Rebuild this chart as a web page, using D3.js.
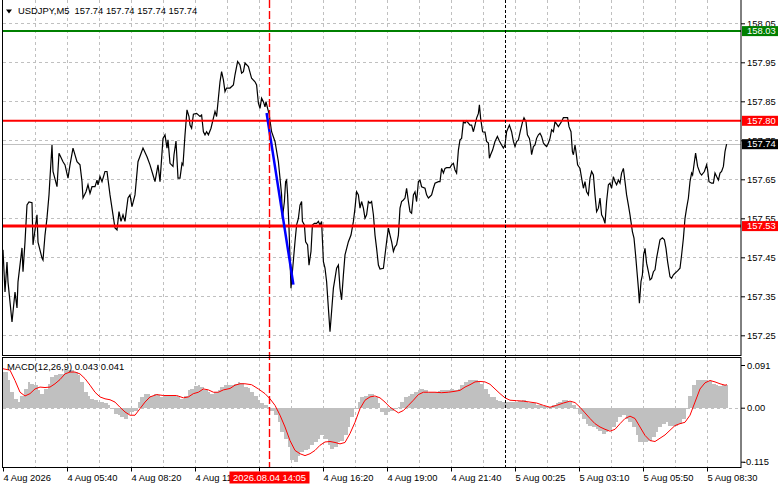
<!DOCTYPE html>
<html>
<head>
<meta charset="utf-8">
<script src="https://cdn.jsdelivr.net/npm/d3@7"></script>
<style>
  body { margin: 0; background: #fff; }
  svg { display: block; }
  text { font-family: "Liberation Sans", Arial, sans-serif; font-size: 9.4px; fill: #000; }
</style>
</head>
<body>
<script>
var NS = {};
NS.w = 781;
NS.h = 489;

// readings; bar = number of M5 bars from the first visible bar
var symbolTitle = "USDJPY,M5";
var quote = [157.74, 157.74, 157.74, 157.74];
var macdTitle = "MACD(12,26,9)";
var macdNow = [0.043, 0.041];

var closeSeries = [
  [0,157.469],[1,157.361],[2,157.438],[2.5,157.387],[4.5,157.284],[6,157.361],[7,157.320],[7.5,157.387],
  [9.5,157.474],[10,157.413],[11,157.489],[12,157.584],[13,157.592],[14.5,157.590],[15,157.482],[17,157.559],
  [17.5,157.489],[19.5,157.448],[20,157.443],[21,157.507],[22,157.551],[23,157.610],[23.5,157.654],[24.5,157.738],
  [25,157.670],[27,157.631],[28,157.717],[30,157.695],[31,157.687],[32.5,157.653],[33.5,157.687],[35,157.730],
  [37,157.695],[38.5,157.687],[39.5,157.644],[40,157.602],[41.5,157.618],[42.5,157.636],[43.5,157.614],[44.5,157.631],
  [46,157.631],[47,157.648],[47.5,157.636],[48.5,157.657],[49.5,157.644],[51,157.670],[52,157.670],[53.5,157.610],
  [55,157.559],[56,157.525],[57,157.520],[58,157.567],[59,157.542],[60,157.559],[61,157.542],[62.5,157.602],
  [63.5,157.610],[64.5,157.580],[66,157.610],[67.5,157.695],[70,157.730],[72,157.708],[73.5,157.687],[75,157.661],
  [76,157.644],[77.5,157.687],[78.5,157.644],[80,157.755],[81,157.764],[82,157.730],[82.5,157.751],[83.5,157.691],
  [85,157.683],[85.5,157.713],[86.5,157.748],[87.5,157.653],[88.5,157.653],[89.5,157.691],[90,157.687],[91,157.764],
  [92,157.828],[93,157.811],[93.5,157.789],[94.3,157.781],[95.2,157.817],[96.8,157.819],[98.5,157.811],[99.3,157.815],
  [100.2,157.772],[101,157.764],[101.8,157.772],[102.7,157.764],[104,157.781],[105.2,157.807],[106,157.824],[106.8,157.811],
  [107.7,157.858],[108.5,157.900],[109.3,157.926],[110.2,157.905],[111,157.875],[111.8,157.884],[113.5,157.884],[115.2,157.892],
  [116,157.918],[117.3,157.952],[118.5,157.943],[119.3,157.922],[120.2,157.926],[121,157.948],[122.7,157.939],[124.3,157.909],
  [126,157.900],[126.8,157.892],[127.7,157.845],[128.5,157.832],[129.3,157.858],[130.2,157.849],[131,157.836],[131.5,157.849],
  [132.3,157.832],[133,157.819],[134.3,157.772],[136,157.747],[137.7,157.695],[138.5,157.653],[139.3,157.610],[139.7,157.550],
  [140.7,157.593],[141.3,157.644],[141.8,157.648],[142.3,157.610],[143,157.525],[144,157.371],[144.7,157.413],[146,157.490],
  [146.8,157.533],[147.7,157.550],[148.5,157.584],[149.3,157.593],[149.7,157.542],[150.7,157.533],[151.3,157.490],[152.3,157.482],
  [153,157.430],[154,157.465],[154.7,157.533],[155.7,157.537],[156.8,157.537],[157.7,157.542],[158.5,157.533],[159.3,157.542],
  [160.2,157.439],[161,157.422],[161.8,157.388],[162.7,157.319],[163.5,157.259],[164.3,157.311],[165.2,157.371],[166,157.396],
  [166.8,157.422],[167.7,157.430],[168.5,157.371],[169.3,157.341],[170.2,157.405],[171,157.456],[172.7,157.490],[174,157.507],
  [175.2,157.542],[176,157.576],[176.8,157.618],[177.7,157.610],[178.5,157.576],[179.3,157.593],[180.2,157.576],[181,157.550],
  [181.8,157.559],[182.7,157.593],[183.5,157.589],[184.3,157.593],[185.2,157.559],[186,157.507],[186.8,157.473],[187.7,157.430],
  [188.5,157.420],[190.2,157.422],[191,157.456],[191.8,157.490],[192.7,157.525],[193.5,157.507],[194.3,157.490],[195.2,157.465],
  [196,157.477],[196.8,157.482],[197.7,157.507],[198.5,157.576],[199.3,157.593],[200.2,157.597],[201,157.602],[201.8,157.627],
  [202.7,157.593],[203.5,157.567],[204.3,157.563],[205.2,157.610],[206,157.618],[206.8,157.593],[207.7,157.644],[208.5,157.648],
  [209.3,157.631],[211,157.627],[211.8,157.610],[212.7,157.602],[213.5,157.606],[214.3,157.610],[215.2,157.627],[216,157.640],
  [217.7,157.644],[218.5,157.644],[219.3,157.678],[220.2,157.666],[221,157.678],[221.8,157.680],[223.5,157.680],[224.3,157.687],
  [225.2,157.691],[226,157.674],[226.8,157.666],[227.7,157.725],[228.5,157.751],[229.3,157.755],[230.2,157.798],[231,157.794],
  [231.8,157.800],[232.7,157.794],[233.5,157.789],[234.3,157.789],[235.2,157.772],[236,157.789],[236.8,157.807],[237.7,157.819],
  [238.2,157.841],[238.8,157.807],[239.8,157.772],[241,157.771],[241.8,157.747],[242.7,157.743],[243.2,157.704],[243.8,157.713],
  [244.8,157.725],[246,157.747],[247.2,157.760],[248.2,157.748],[249.3,157.738],[250.2,157.730],[251,157.738],[251.8,157.772],
  [253.2,157.789],[254.3,157.772],[255.2,157.747],[256,157.734],[256.8,157.747],[257.7,157.751],[258.8,157.777],[259.8,157.798],
  [260.5,157.808],[261.5,157.798],[262.2,157.764],[263.2,157.755],[263.8,157.738],[264.3,157.713],[265.2,157.734],[266,157.738],
  [266.8,157.755],[267.7,157.764],[268.5,157.768],[269.3,157.760],[270.2,157.743],[271,157.738],[271.8,157.734],[272.7,157.743],
  [273.5,157.755],[274.3,157.777],[275.2,157.772],[276,157.798],[277.7,157.785],[279.3,157.798],[280.2,157.808],[282.3,157.808],
  [283,157.785],[284,157.772],[284.7,157.721],[285.2,157.713],[286,157.738],[286.5,157.721],[287.3,157.687],[288.5,157.678],
  [289.3,157.653],[290.2,157.627],[291,157.644],[291.8,157.618],[292.7,157.610],[293.5,157.653],[294.3,157.670],[295.2,157.661],
  [296,157.610],[296.8,157.567],[297.7,157.576],[298.5,157.602],[299.3,157.559],[300.2,157.550],[301,157.537],[301.8,157.593],
  [302.7,157.636],[303.5,157.640],[304.3,157.627],[305.2,157.657],[306,157.644],[306.8,157.636],[307.7,157.648],[308.5,157.640],
  [309.3,157.666],[310.2,157.678],[311,157.644],[311.8,157.610],[312.7,157.584],[313.5,157.559],[314.7,157.516],[315.5,157.499],
  [316.3,157.456],[317,157.413],[317.7,157.371],[318.2,157.332],[319,157.388],[319.7,157.405],[320.3,157.456],[321,157.473],
  [321.8,157.435],[322.7,157.413],[323.5,157.392],[324.3,157.396],[325.2,157.413],[326,157.418],[326.8,157.448],[327.7,157.473],
  [328.5,157.495],[329.7,157.500],[330.7,157.495],[331.5,157.473],[332.3,157.439],[333.5,157.400],[334.3,157.396],[335.2,157.405],
  [336,157.409],[337.3,157.415],[338.5,157.422],[339.3,157.456],[340.2,157.499],[341,157.550],[341.8,157.576],[342.7,157.602],
  [343.5,157.644],[344.3,157.666],[344.8,157.661],[345.7,157.695],[346.3,157.717],[347.3,157.683],[348.5,157.666],[349.3,157.661],
  [350.7,157.670],[351.8,157.687],[352.3,157.674],[353,157.644],[354.3,157.640],[355.2,157.640],[356,157.666],[356.8,157.657],
  [357.7,157.648],[358.5,157.666],[359.3,157.670],[360.2,157.683],[361,157.721],[361.8,157.740]
];

var macdHist = [
  [0,0.076],[3,0.058],[4,0.033],[6,0.019],[8,0.012],[9,0.026],[11,0.040],[13,0.055],[14,0.051],[16,0.048],
  [18,0.037],[19,0.030],[21,0.040],[23,0.051],[24,0.065],[26,0.070],[28,0.072],[29,0.072],[31,0.080],[33,0.080],
  [34,0.080],[36,0.076],[38,0.069],[39,0.055],[41,0.033],[43,0.026],[44,0.019],[46,0.016],[48,0.012],[49,0.012],
  [51,0.009],[53,0.006],[54,-0.002],[56,-0.013],[58,-0.016],[59,-0.020],[61,-0.023],[63,-0.013],[64,-0.009],[66,-0.006],
  [68,0.012],[69,0.023],[71,0.030],[73,0.030],[74,0.026],[76,0.030],[78,0.028],[79,0.023],[81,0.026],[83,0.026],
  [84,0.025],[86,0.026],[88,0.023],[89,0.018],[91,0.026],[93,0.037],[94,0.040],[96,0.046],[98,0.048],[99,0.044],
  [101,0.037],[103,0.033],[104,0.030],[106,0.033],[108,0.037],[109,0.044],[111,0.048],[113,0.048],[114,0.049],[116,0.051],
  [118,0.055],[119,0.053],[121,0.045],[123,0.043],[124,0.033],[126,0.026],[128,0.016],[129,0.009],[131,0.005],[133,0.001],
  [134,-0.006],[136,-0.016],[138,-0.031],[139,-0.052],[141,-0.066],[143,-0.084],[144,-0.112],[146,-0.115],[148,-0.102],[149,-0.095],
  [151,-0.091],[153,-0.088],[154,-0.080],[156,-0.073],[158,-0.066],[159,-0.059],[161,-0.066],[163,-0.080],[164,-0.088],[166,-0.084],
  [168,-0.073],[169,-0.070],[171,-0.059],[173,-0.041],[174,-0.020],[176,-0.002],[178,0.012],[179,0.023],[181,0.026],[183,0.030],
  [184,0.030],[186,0.023],[188,0.009],[189,-0.009],[191,-0.016],[193,-0.009],[194,-0.006],[196,-0.002],[198,0.001],[199,0.012],
  [201,0.023],[203,0.026],[204,0.030],[206,0.033],[208,0.038],[209,0.040],[211,0.037],[213,0.033],[214,0.033],[216,0.033],
  [218,0.035],[219,0.037],[221,0.038],[223,0.037],[224,0.039],[226,0.038],[228,0.040],[229,0.048],[231,0.055],[233,0.058],
  [234,0.058],[236,0.058],[238,0.055],[239,0.051],[241,0.040],[243,0.030],[244,0.023],[246,0.023],[247,0.016],[248,0.014],
  [250,0.012],[252,0.012],[253,0.012],[255,0.012],[257,0.012],[258,0.014],[260,0.016],[262,0.012],[263,0.011],[265,0.009],
  [267,0.006],[268,0.005],[270,0.004],[272,0.001],[273,0.001],[275,0.005],[277,0.009],[278,0.012],[280,0.016],[282,0.016],
  [283,0.012],[285,0.006],[287,-0.002],[288,-0.013],[290,-0.023],[292,-0.034],[293,-0.038],[295,-0.041],[297,-0.045],[298,-0.050],
  [300,-0.055],[302,-0.052],[303,-0.048],[305,-0.041],[307,-0.031],[308,-0.020],[310,-0.016],[312,-0.023],[313,-0.031],[315,-0.041],
  [317,-0.059],[318,-0.073],[320,-0.074],[322,-0.073],[323,-0.070],[325,-0.062],[327,-0.052],[328,-0.041],[330,-0.034],[332,-0.031],
  [333,-0.038],[335,-0.040],[337,-0.038],[338,-0.034],[340,-0.023],[342,-0.002],[343,0.026],[345,0.048],[347,0.058],[348,0.060],
  [350,0.060],[352,0.060],[353,0.056],[355,0.051],[357,0.048],[358,0.046],[360,0.048],[362,0.049]
];

var macdSignal = [
  [0,0.083],[3.5,0.080],[6,0.058],[8.5,0.033],[11,0.025],[13.5,0.030],[16,0.040],[18.5,0.044],[21,0.043],[23.5,0.044],
  [26,0.051],[28.5,0.060],[31,0.072],[33.5,0.076],[36,0.076],[38.5,0.072],[41,0.062],[43.5,0.048],[46,0.033],[48.5,0.023],
  [51,0.019],[53.5,0.017],[56,0.012],[58.5,0.001],[61,-0.009],[63.5,-0.016],[66,-0.016],[68.5,-0.002],[71,0.012],[73.5,0.023],
  [76.8,0.028],[80.2,0.026],[83.5,0.026],[86.8,0.026],[90.2,0.021],[92.7,0.023],[95.2,0.030],[97.7,0.033],[100.2,0.040],[102.7,0.038],
  [105.2,0.033],[107.7,0.033],[110.2,0.038],[113.5,0.041],[116,0.048],[118.5,0.051],[121,0.051],[124.3,0.049],[127.7,0.040],[131,0.030],
  [133.5,0.019],[136,0.005],[138.5,-0.016],[141,-0.041],[143.5,-0.070],[146,-0.091],[148.5,-0.098],[151,-0.102],[153.5,-0.098],[156,-0.091],
  [158.5,-0.080],[161,-0.073],[163.5,-0.072],[166,-0.074],[168.5,-0.077],[171,-0.074],[173.5,-0.055],[176,-0.031],[178.5,-0.002],[181,0.016],
  [183.5,0.023],[186,0.025],[188.5,0.021],[191,0.012],[193.5,0.001],[196,-0.006],[197.7,-0.011],[200.2,-0.006],[202.7,0.005],[205.2,0.016],
  [207.7,0.028],[210.2,0.033],[212.7,0.033],[216,0.033],[219.3,0.032],[222.7,0.033],[226,0.035],[228.5,0.037],[231,0.044],[233.5,0.049],
  [236,0.055],[238.5,0.056],[241,0.055],[243.5,0.050],[246,0.040],[248.5,0.030],[251,0.021],[253.5,0.016],[256.8,0.015],[260.2,0.014],
  [263.5,0.012],[266.8,0.010],[270.2,0.005],[273.5,0.001],[276.8,0.005],[280.2,0.010],[283.5,0.014],[286,0.011],[288.5,0.001],[291,-0.011],
  [293.5,-0.023],[296,-0.034],[298.5,-0.041],[301,-0.046],[303.5,-0.050],[306,-0.046],[308.5,-0.034],[311,-0.023],[313.5,-0.018],[316,-0.023],
  [318.5,-0.041],[321,-0.059],[323.5,-0.070],[326,-0.072],[328.5,-0.065],[331,-0.058],[333.5,-0.048],[336,-0.038],[338.5,-0.034],[341,-0.031],
  [343.5,-0.016],[346,0.012],[348.5,0.040],[351,0.053],[353.5,0.058],[356,0.055],[358.5,0.051],[361,0.048],[362,0.049]
];

var priceTicks = [158.05, 157.95, 157.85, 157.75, 157.65, 157.55, 157.45, 157.35, 157.25];
var macdTicks = [0.091, 0, -0.115];
var macdTickLabels = ["0.091", "0.00", "-0.115"];
var timeTickBars = [0, 32, 64, 96, 128, 160, 192, 224, 256, 288, 320, 352];
var timeTickLabels = ["4 Aug 2026", "4 Aug 05:40", "4 Aug 08:20", "4 Aug 11:00", "4 Aug 13:40", "4 Aug 16:20",
  "4 Aug 19:00", "4 Aug 21:40", "5 Aug 00:25", "5 Aug 03:10", "5 Aug 05:50", "5 Aug 08:30"];

var levelPrices = [158.03, 157.80, 157.53];
var bidPrice = 157.74;
var trendLine = [[131.8, 157.82], [145.2, 157.38]];
var crossBar = 133;
var crossLabel = "2026.08.04 14:05";
var daySepBar = 251;
var lastBar = 362;

function main() {
  var svg = d3.select("body").append("svg")
    .attr("width", NS.w)
    .attr("height", NS.h);

  var left = 2.5, right = 741, mainBottom = 355.5, subTop = 357.5, subBottom = 467.5;

  var x = d3.scaleLinear().domain([0, lastBar]).range([3, 727]);
  var yP = d3.scaleLinear().domain([157.25, 158.05]).range([335.3, 23.3]);
  var yM = d3.scaleLinear().domain([-0.115, 0.091]).range([461.7, 365]);

  var levelColor = ["#008000", "#ff0000", "#ff0000"];
  var levelWidth = [2, 2, 3];

  // grid
  var grid = svg.append("g")
    .attr("stroke", "#c0c0c0")
    .attr("stroke-dasharray", "3,3")
    .attr("shape-rendering", "crispEdges");
  var gridBars = d3.range(16, lastBar, 16);
  gridBars.forEach(function(b) {
    var gx = Math.round(x(b)) + 0.5;
    grid.append("line").attr("x1", gx).attr("x2", gx).attr("y1", 0).attr("y2", mainBottom);
    grid.append("line").attr("x1", gx).attr("x2", gx).attr("y1", subTop).attr("y2", subBottom);
  });
  priceTicks.forEach(function(p) {
    var gy = Math.round(yP(p)) + 0.5;
    grid.append("line").attr("x1", left).attr("x2", right).attr("y1", gy).attr("y2", gy);
  });
  var zy = Math.round(yM(0)) + 0.5;
  grid.append("line").attr("x1", left).attr("x2", right).attr("y1", zy).attr("y2", zy);

  // bid line
  svg.append("line")
    .attr("x1", left).attr("x2", right)
    .attr("y1", Math.round(yP(bidPrice)) + 0.5).attr("y2", Math.round(yP(bidPrice)) + 0.5)
    .attr("stroke", "#c0c0c0");

  // MACD histogram, one step per reading, closed at the right edge of the last bar
  var histEdge = macdHist.concat([[lastBar + 1, macdHist[macdHist.length - 1][1]]]);
  svg.append("path")
    .datum(histEdge)
    .attr("d", d3.area()
      .curve(d3.curveStepAfter)
      .x(function(d) { return x(d[0]) - 1; })
      .y0(yM(0))
      .y1(function(d) { return yM(d[1]); }))
    .attr("fill", "#c0c0c0")
    .attr("shape-rendering", "crispEdges");

  // MACD signal
  svg.append("path")
    .datum(macdSignal)
    .attr("d", d3.line().x(function(d) { return x(d[0]); }).y(function(d) { return yM(d[1]); }))
    .attr("fill", "none")
    .attr("stroke", "#ff0000")
    .attr("stroke-width", 1);

  // price line
  svg.append("path")
    .datum(closeSeries)
    .attr("d", d3.line().x(function(d) { return x(d[0]); }).y(function(d) { return yP(d[1]); }))
    .attr("fill", "none")
    .attr("stroke", "#000")
    .attr("stroke-width", 1.2);

  // horizontal levels
  levelPrices.forEach(function(p, i) {
    svg.append("line")
      .attr("x1", left).attr("x2", right)
      .attr("y1", yP(p)).attr("y2", yP(p))
      .attr("stroke", levelColor[i])
      .attr("stroke-width", levelWidth[i]);
  });

  // trend line
  svg.append("path")
    .datum(trendLine)
    .attr("d", d3.line().x(function(d) { return x(d[0]); }).y(function(d) { return yP(d[1]); }))
    .attr("stroke", "#0000ff")
    .attr("stroke-width", 2.5);

  // vertical markers
  svg.append("line")
    .attr("x1", Math.round(x(daySepBar)) + 0.5).attr("x2", Math.round(x(daySepBar)) + 0.5)
    .attr("y1", 0).attr("y2", subBottom)
    .attr("stroke", "#000")
    .attr("stroke-dasharray", "3,2");
  svg.append("line")
    .attr("x1", x(crossBar) + 0.5).attr("x2", x(crossBar) + 0.5)
    .attr("y1", 0).attr("y2", subBottom)
    .attr("stroke", "#ff0000")
    .attr("stroke-width", 1.4)
    .attr("stroke-dasharray", "8,3");

  // frames
  svg.append("rect")
    .attr("x", left).attr("y", -1).attr("width", right - left).attr("height", mainBottom + 1)
    .attr("fill", "none").attr("stroke", "#000");
  svg.append("rect")
    .attr("x", left).attr("y", subTop).attr("width", right - left).attr("height", subBottom - subTop)
    .attr("fill", "none").attr("stroke", "#000");

  // price axis
  var pAxis = svg.append("g")
    .attr("transform", "translate(" + right + ",0)")
    .call(d3.axisRight(yP).tickValues(priceTicks).tickSize(4).tickPadding(2).tickFormat(d3.format(".2f")));
  pAxis.select(".domain").remove();

  // level and bid boxes
  var boxes = levelPrices.map(function(p, i) { return { p: p, c: levelColor[i] }; });
  boxes.push({ p: bidPrice, c: "#000" });
  boxes.forEach(function(b) {
    svg.append("rect")
      .attr("x", right + 1).attr("y", yP(b.p) - 5)
      .attr("width", 36).attr("height", 10)
      .attr("fill", b.c);
    svg.append("text")
      .attr("x", right + 6).attr("y", yP(b.p)).attr("dy", "0.34em")
      .style("fill", "#fff")
      .text(d3.format(".2f")(b.p));
  });

  // MACD axis
  var mAxis = svg.append("g")
    .attr("transform", "translate(" + right + ",0)")
    .call(d3.axisRight(yM).tickValues(macdTicks).tickSize(4).tickPadding(2)
      .tickFormat(function(d, i) { return macdTickLabels[i]; }));
  mAxis.select(".domain").remove();
  mAxis.selectAll("text").filter(function(d) { return d < 0; }).attr("x", 2);

  // time axis
  var tAxis = svg.append("g")
    .attr("transform", "translate(0," + subBottom + ")")
    .call(d3.axisBottom(x).tickValues(timeTickBars).tickSize(4).tickPadding(3)
      .tickFormat(function(d, i) { return timeTickLabels[i]; }));
  tAxis.select(".domain").remove();
  tAxis.selectAll("text").attr("text-anchor", "start").attr("x", 0);

  // crosshair time label (hides the label that starts under it)
  var cx = x(crossBar) + 0.5;
  var boxW = 80;
  tAxis.selectAll(".tick").each(function(d) {
    var x0 = x(d);
    if (x0 > cx - boxW / 2 && x0 < cx + boxW / 2) d3.select(this).select("text").remove();
  });
  svg.append("rect")
    .attr("x", cx - boxW / 2).attr("y", 471.5)
    .attr("width", boxW).attr("height", 12)
    .attr("fill", "#ff0000");
  svg.append("text")
    .attr("x", cx).attr("y", 481)
    .attr("text-anchor", "middle")
    .style("fill", "#fff")
    .text(crossLabel);

  // titles
  svg.append("path")
    .attr("d", "M6,9.5L12,9.5L9,13.5Z")
    .attr("fill", "#000");
  svg.append("text")
    .attr("x", 18).attr("y", 14)
    .text(symbolTitle + "\u00a0\u00a0" + quote.map(d3.format(".2f")).join(" "));
  svg.append("text")
    .attr("x", 7).attr("y", 370)
    .text(macdTitle + " " + macdNow.map(d3.format(".3f")).join(" "));
}
main();
</script>
</body>
</html>
